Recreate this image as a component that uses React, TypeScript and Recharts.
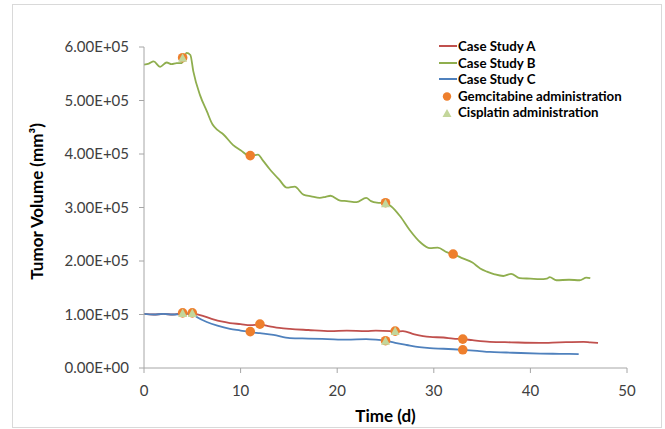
import React from 'react';
import { ComposedChart, Line, Scatter, XAxis, YAxis, Label } from 'recharts';

// Case Study A (red)
const daysA = [0, 1, 2, 3, 4, 5, 5.8, 7, 8, 8.9, 10, 11, 12, 13, 14, 15.1, 17, 19.3, 21, 23, 24, 25.5, 26, 26.8, 28, 29.6, 31, 32, 33, 34, 35.8, 38, 41, 43, 45.5, 46.2, 47];
const valuesA = [1.01e5, 1.0e5, 1.01e5, 1.0e5, 1.02e5, 1.02e5, 0.99e5, 0.92e5, 0.87e5, 0.84e5, 0.82e5, 0.8e5, 0.81e5, 0.78e5, 0.75e5, 0.73e5, 0.71e5, 0.69e5, 0.7e5, 0.69e5, 0.7e5, 0.69e5, 0.68e5, 0.69e5, 0.63e5, 0.58e5, 0.57e5, 0.55e5, 0.54e5, 0.52e5, 0.49e5, 0.48e5, 0.47e5, 0.48e5, 0.49e5, 0.48e5, 0.47e5];

// Case Study B (green)
const daysB = [0, 0.5, 1, 1.66, 2.35, 2.86, 3.38, 3.9, 4.41, 4.8, 5.1, 5.8, 6.5, 7.1, 7.6, 8.2, 9.2, 10, 11, 11.8, 12.3, 13, 14, 14.8, 15.6, 16.5, 17.3, 18.2, 18.8, 19.3, 20.3, 21, 22, 23, 23.5, 24.1, 25, 25.6, 26.5, 27.5, 28.6, 29.6, 30.4, 31.4, 32, 33, 34, 34.8, 35.5, 36.3, 37.2, 38, 38.9, 40, 41, 41.7, 42, 42.7, 44, 45.1, 45.8, 46.2];
const valuesB = [5.67e5, 5.69e5, 5.73e5, 5.63e5, 5.71e5, 5.68e5, 5.7e5, 5.7e5, 5.89e5, 5.85e5, 5.55e5, 5.1e5, 4.8e5, 4.55e5, 4.45e5, 4.37e5, 4.17e5, 4.07e5, 3.96e5, 3.99e5, 3.88e5, 3.72e5, 3.52e5, 3.37e5, 3.39e5, 3.24e5, 3.21e5, 3.18e5, 3.2e5, 3.22e5, 3.13e5, 3.12e5, 3.1e5, 3.18e5, 3.12e5, 3.09e5, 3.08e5, 3.02e5, 2.84e5, 2.58e5, 2.35e5, 2.24e5, 2.25e5, 2.16e5, 2.13e5, 2.05e5, 1.97e5, 1.86e5, 1.8e5, 1.75e5, 1.72e5, 1.76e5, 1.68e5, 1.67e5, 1.66e5, 1.67e5, 1.7e5, 1.64e5, 1.65e5, 1.64e5, 1.69e5, 1.68e5];

// Case Study C (blue)
const daysC = [0, 1, 2, 3, 4, 5, 5.5, 6.5, 7.6, 8.9, 10, 11, 12, 13.4, 15.1, 17, 19, 21, 23, 24, 25, 26, 27.2, 28.5, 29.6, 31, 33, 34.5, 35.8, 37.5, 39, 41, 43, 45];
const valuesC = [1.01e5, 1.0e5, 1.01e5, 1.0e5, 1.01e5, 1.01e5, 0.95e5, 0.86e5, 0.79e5, 0.73e5, 0.7e5, 0.67e5, 0.65e5, 0.62e5, 0.56e5, 0.55e5, 0.54e5, 0.53e5, 0.54e5, 0.53e5, 0.51e5, 0.47e5, 0.43e5, 0.39e5, 0.37e5, 0.36e5, 0.34e5, 0.32e5, 0.3e5, 0.29e5, 0.28e5, 0.27e5, 0.265e5, 0.26e5];

// Gemcitabine administration (orange circles)
const gemDays = [4, 11, 25, 32, 4, 11, 25, 33, 5, 12, 26, 33];
const gemValues = [5.8e5, 3.97e5, 3.09e5, 2.13e5, 1.03e5, 0.68e5, 0.51e5, 0.34e5, 1.03e5, 0.82e5, 0.69e5, 0.54e5];

// Cisplatin administration (light green triangles)
const cisDays = [4, 25, 4, 25, 5, 26];
const cisValues = [5.8e5, 3.08e5, 1.03e5, 0.51e5, 1.03e5, 0.69e5];

const xTicks = [0, 10, 20, 30, 40, 50];
const yTicks = [0, 1e5, 2e5, 3e5, 4e5, 5e5, 6e5];

const seriesNames = ['Case Study A', 'Case Study B', 'Case Study C', 'Gemcitabine administration', 'Cisplatin administration'];

const COLORS = {
  A: '#C0504D',
  B: '#8FAE4E',
  C: '#4F81BD',
  gem: '#EE7F2D',
  cis: '#C3D69B',
};

const zip = (xs: number[], ys: number[]) => xs.map((x, i) => ({ x, y: ys[i] }));
const dataA = zip(daysA, valuesA);
const dataB = zip(daysB, valuesB);
const dataC = zip(daysC, valuesC);
const dataGem = zip(gemDays, gemValues);
const dataCis = zip(cisDays, cisValues);

const FONT = 'Lato, "Open Sans", sans-serif';

const fmtSci = (v: number) => {
  if (v === 0) return '0.00E+00';
  const e = Math.floor(Math.log10(Math.abs(v)));
  const m = v / Math.pow(10, e);
  return `${m.toFixed(2)}E+${String(e).padStart(2, '0')}`;
};

const CircleShape = (props: any) => {
  const { cx, cy } = props;
  if (cx == null || cy == null) return null;
  return <circle cx={cx} cy={cy} r={4.8} fill={COLORS.gem} />;
};

const TriangleShape = (props: any) => {
  const { cx, cy } = props;
  if (cx == null || cy == null) return null;
  const h = 8;
  const w = 9;
  return (
    <polygon
      points={`${cx},${cy - h / 2 - 0.5} ${cx - w / 2},${cy + h / 2} ${cx + w / 2},${cy + h / 2}`}
      fill={COLORS.cis}
    />
  );
};

const LegendBox = () => {
  const icons = [
    <line key="a" x1={0} y1={7} x2={18} y2={7} stroke={COLORS.A} strokeWidth={2} />,
    <line key="b" x1={0} y1={7} x2={18} y2={7} stroke={COLORS.B} strokeWidth={2} />,
    <line key="c" x1={0} y1={7} x2={18} y2={7} stroke={COLORS.C} strokeWidth={2} />,
    <circle key="g" cx={8} cy={7.5} r={4.2} fill={COLORS.gem} />,
    <polygon key="t" points="8,3 3.5,11 12.5,11" fill={COLORS.cis} />,
  ];
  return (
    <div style={{ position: 'absolute', left: 439, top: 38, fontFamily: FONT, fontWeight: 700, fontSize: 13.3, color: '#000', lineHeight: '16.6px' }}>
      {seriesNames.map((n, i) => (
        <div key={n} style={{ display: 'flex', alignItems: 'center', whiteSpace: 'nowrap' }}>
          <svg width={19} height={14} style={{ display: 'block' }}>
            {icons[i]}
          </svg>
          <span style={{ marginLeft: 0 }}>{n}</span>
        </div>
      ))}
    </div>
  );
};

const YTitle = (props: any) => {
  const vb = props.viewBox || {};
  const x = (vb.x ?? 0) + 43;
  const y = (vb.y ?? 0) + (vb.height ?? 0) / 2 - 6;
  return (
    <text x={x} y={y} transform={`rotate(-90 ${x} ${y})`} textAnchor="middle" fontFamily={FONT} fontWeight={700} fontSize={17} fill="#000">
      Tumor Volume (mm³)
    </text>
  );
};

const XTitle = (props: any) => {
  const vb = props.viewBox || {};
  const x = (vb.x ?? 0) + (vb.width ?? 0) / 2;
  const y = (vb.y ?? 0) + 54;
  return (
    <text x={x} y={y} textAnchor="middle" fontFamily={FONT} fontWeight={700} fontSize={17} fill="#000">
      Time (d)
    </text>
  );
};

export default function App() {
  return (
    <div style={{ position: 'absolute', left: 0, top: 0, width: 665, height: 429, background: '#fff' }}>
      <div style={{ position: 'absolute', left: 12, top: 4, width: 650, height: 424, border: '1px solid #d9d9d9', boxSizing: 'border-box' }} />
      <div style={{ position: 'absolute', left: 0, top: 0 }}>
        <ComposedChart width={665} height={429} margin={{ top: 47, right: 38, bottom: 0, left: 0 }}>
          <XAxis
            type="number"
            dataKey="x"
            domain={[0, 50]}
            ticks={xTicks}
            allowDataOverflow
            stroke="#a6a6a6"
            tickSize={5}
            tickMargin={12}
            height={61}
            tick={{ fill: '#404040', fontFamily: FONT, fontSize: 15 }}
          >
            <Label content={<XTitle />} />
          </XAxis>
          <YAxis
            type="number"
            dataKey="y"
            domain={[0, 6e5]}
            ticks={yTicks}
            width={144}
            stroke="#a6a6a6"
            tickSize={5}
            tickMargin={10}
            tickFormatter={fmtSci}
            tick={{ fill: '#404040', fontFamily: FONT, fontSize: 15 }}
          >
            <Label content={<YTitle />} />
          </YAxis>
          <Line data={dataA} dataKey="y" name={seriesNames[0]} type="monotone" stroke={COLORS.A} strokeWidth={1.8} dot={false} isAnimationActive={false} />
          <Line data={dataB} dataKey="y" name={seriesNames[1]} type="monotone" stroke={COLORS.B} strokeWidth={1.8} dot={false} isAnimationActive={false} />
          <Line data={dataC} dataKey="y" name={seriesNames[2]} type="monotone" stroke={COLORS.C} strokeWidth={1.8} dot={false} isAnimationActive={false} />
          <Scatter data={dataGem} dataKey="y" name={seriesNames[3]} shape={<CircleShape />} isAnimationActive={false} />
          <Scatter data={dataCis} dataKey="y" name={seriesNames[4]} shape={<TriangleShape />} isAnimationActive={false} />
        </ComposedChart>
      </div>
      <LegendBox />
    </div>
  );
}
